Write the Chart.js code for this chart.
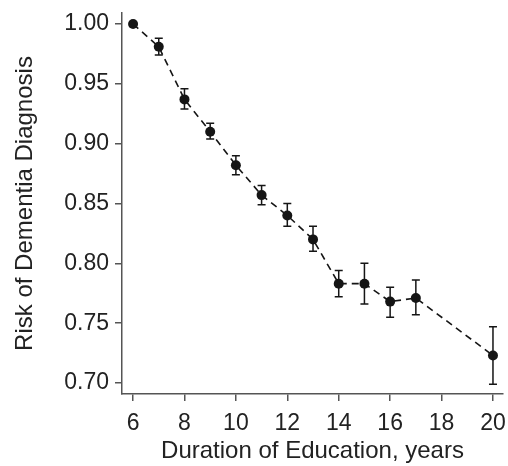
<!DOCTYPE html>
<html>
<head>
<meta charset="utf-8">
<script src="https://cdn.jsdelivr.net/npm/chart.js@4/dist/chart.umd.min.js"></script>
<style>
  html, body { margin: 0; padding: 0; background: #fff; }
  #chart { display: block; }
</style>
</head>
<body>
<canvas id="chart" width="508" height="466"></canvas>
<script>
// Data
const years = [6, 7, 8, 9, 10, 11, 12, 13, 14, 15, 16, 17, 20];
const risk  = [1.000, 0.981, 0.937, 0.910, 0.882, 0.857, 0.840, 0.820, 0.783, 0.783, 0.768, 0.771, 0.723];
const lower = [1.000, 0.974, 0.929, 0.904, 0.874, 0.849, 0.831, 0.810, 0.772, 0.766, 0.755, 0.757, 0.699];
const upper = [1.000, 0.988, 0.946, 0.917, 0.890, 0.865, 0.850, 0.831, 0.794, 0.800, 0.780, 0.786, 0.747];
const xTicks = [6, 8, 10, 12, 14, 16, 18, 20];
const yTicks = [0.70, 0.75, 0.80, 0.85, 0.90, 0.95, 1.00];

const ink = '#151515';
const axisGrey = '#555';
const fontFamily = '"Liberation Sans", Arial, sans-serif';

// Draws the vertical error bars with caps, using the chart's scales
const errorBars = {
    id: 'errorBars',
    afterDatasetsDraw(chart) {
        const ctx = chart.ctx;
        const x = chart.scales.x;
        const y = chart.scales.y;
        ctx.save();
        ctx.strokeStyle = ink;
        ctx.lineWidth = 1.5;
        years.forEach((yr, i) => {
            if (upper[i] === lower[i]) return;
            const px = x.getPixelForValue(yr);
            const top = y.getPixelForValue(upper[i]);
            const bot = y.getPixelForValue(lower[i]);
            ctx.beginPath();
            ctx.moveTo(px, top); ctx.lineTo(px, bot);
            ctx.moveTo(px - 4, top); ctx.lineTo(px + 4, top);
            ctx.moveTo(px - 4, bot); ctx.lineTo(px + 4, bot);
            ctx.stroke();
        });
        ctx.restore();
    }
};

const ctx = document.getElementById('chart');

new Chart(ctx, {
    type: 'line',
    data: {
        datasets: [{
            data: years.map((yr, i) => ({ x: yr, y: risk[i] })),
            borderColor: ink,
            borderWidth: 1.6,
            borderDash: [7, 5],
            backgroundColor: ink,
            pointRadius: 5,
            pointBorderWidth: 0,
            pointBackgroundColor: ink,
            tension: 0,
            fill: false
        }]
    },
    options: {
        responsive: false,
        animation: false,
        layout: { padding: { top: 13, right: 5, left: 0, bottom: 0 } },
        plugins: {
            legend: { display: false },
            tooltip: { enabled: false }
        },
        scales: {
            x: {
                type: 'linear',
                min: 5.57,
                max: 20.39,
                afterBuildTicks: s => { s.ticks = xTicks.map(v => ({ value: v })); },
                afterFit: s => { s.height = 72; s.paddingLeft = 0; s.paddingRight = 0; },
                border: { display: true, color: axisGrey, width: 1.5 },
                grid: { display: true, drawOnChartArea: false, drawTicks: true, tickLength: 7, color: axisGrey, lineWidth: 1.5 },
                ticks: { color: '#222', padding: 9, maxRotation: 0, font: { family: fontFamily, size: 23 } },
                title: { display: true, text: 'Duration of Education, years', color: '#222', padding: { top: 5, bottom: 0 }, font: { family: fontFamily, size: 24 } }
            },
            y: {
                min: 0.6908,
                max: 1.0092,
                afterBuildTicks: s => { s.ticks = yTicks.map(v => ({ value: v })); },
                afterFit: s => { s.width = 122; s.paddingTop = 0; s.paddingBottom = 0; },
                border: { display: true, color: axisGrey, width: 1.5 },
                grid: { display: true, drawOnChartArea: false, drawTicks: true, tickLength: 7, color: axisGrey, lineWidth: 1.5 },
                ticks: { color: '#222', padding: 6, callback: v => v.toFixed(2), font: { family: fontFamily, size: 23 } },
                title: { display: true, text: 'Risk of Dementia Diagnosis', color: '#222', padding: { top: 11, bottom: 0 }, font: { family: fontFamily, size: 24 } }
            }
        }
    },
    plugins: [errorBars]
});
</script>
</body>
</html>
